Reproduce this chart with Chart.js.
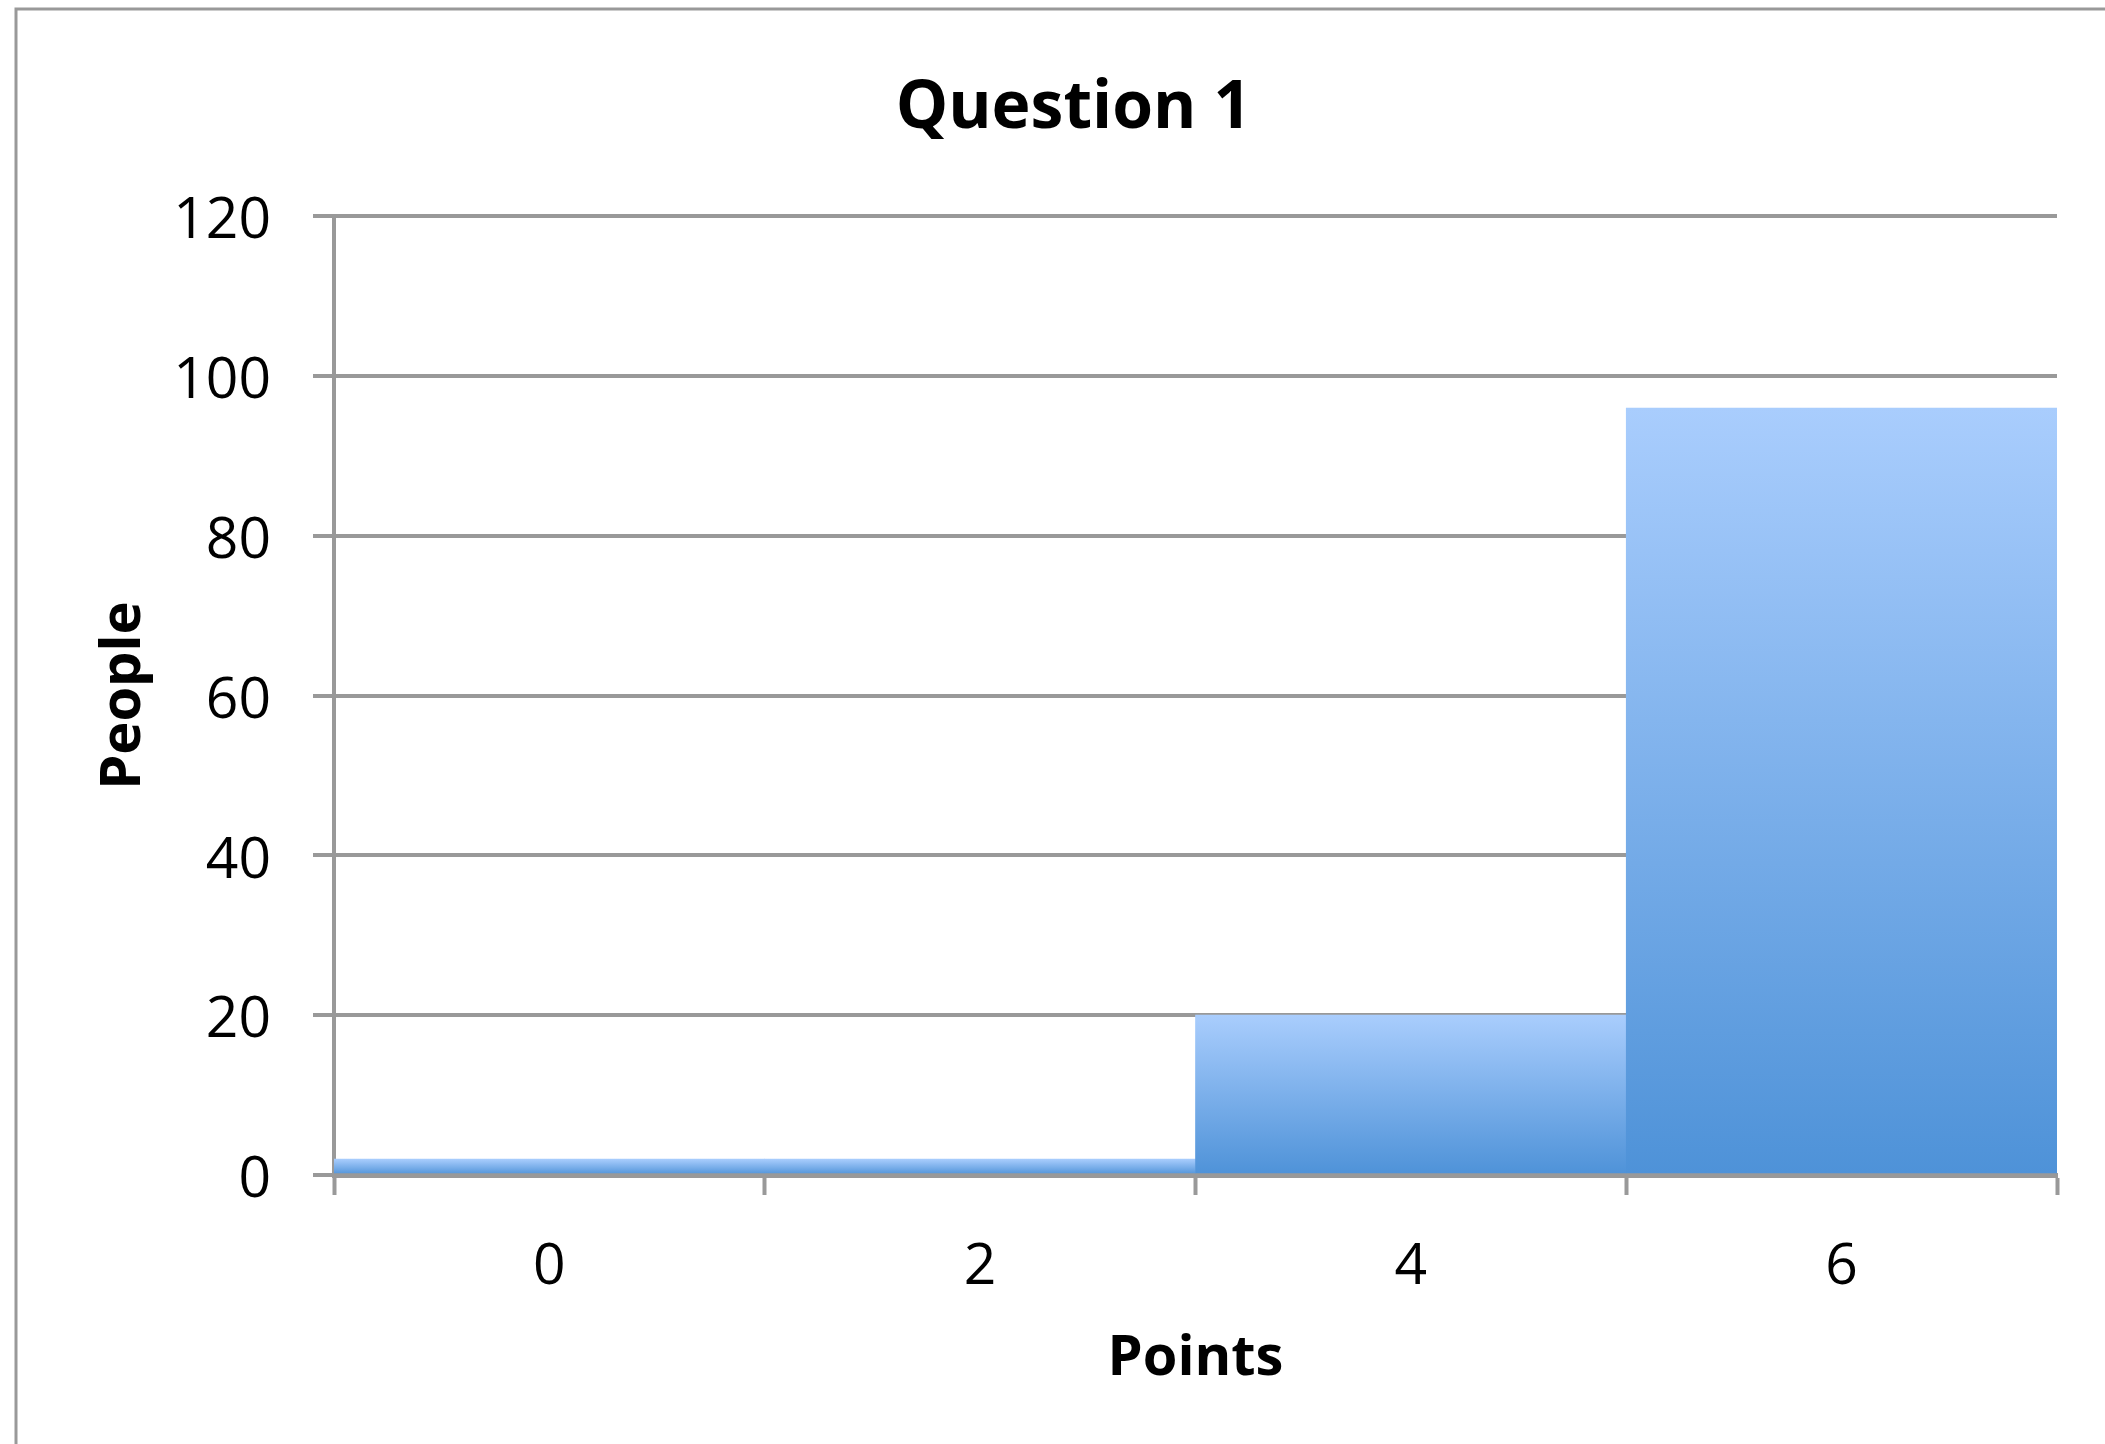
<!DOCTYPE html>
<html>
<head>
<meta charset="utf-8">
<title>Question 1</title>
<script src="https://cdn.jsdelivr.net/npm/chart.js@4.4.1/dist/chart.umd.min.js"></script>
<style>
  html, body { margin: 0; padding: 0; background: #fff; }
  #wrap { width: 2105px; height: 1444px; }
</style>
</head>
<body>
<div id="wrap"><canvas id="chart" width="2105" height="1444"></canvas></div>
<script>
// Chart data.
var chartTitle = 'Question 1';
var points = ['0', '2', '4', '6'];
var people = [2, 2, 20, 96];
var yMax = 120;
var yStep = 20;
var xLabel = 'Points';
var yLabel = 'People';

var gridGrey = '#999999';
var fontFamily = '"Open Sans", "DejaVu Sans", sans-serif';

/**
 * Outer frame of the chart object (only left and top edges are in view).
 */
var framePlugin = {
    id: 'frame',
    beforeDraw: function(chart) {
        var ctx = chart.ctx;
        ctx.save();
        ctx.fillStyle = '#ffffff';
        ctx.fillRect(0, 0, chart.width, chart.height);
        ctx.strokeStyle = gridGrey;
        ctx.lineWidth = 3;
        ctx.strokeRect(16, 9, chart.width + 50, chart.height + 50);
        ctx.restore();
    }
};

// Vertical light-to-dark gradient spanning each bar.
function barGradient(context) {
    var chart = context.chart;
    if (!chart.chartArea || !chart.scales.y) {
        return '#7fb0ea';
    }
    var y = chart.scales.y;
    var top = y.getPixelForValue(context.raw);
    var base = y.getPixelForValue(0);
    if (!isFinite(top) || base - top < 1) {
        return '#7fb0ea';
    }
    var g = chart.ctx.createLinearGradient(0, top, 0, base);
    g.addColorStop(0, '#a9cdfd');
    g.addColorStop(1, '#4e92d8');
    return g;
}

new Chart(document.getElementById('chart'), {
    type: 'bar',
    data: {
        labels: points,
        datasets: [{
            data: people,
            backgroundColor: barGradient,
            borderWidth: 0,
            categoryPercentage: 1,
            barPercentage: 1
        }]
    },
    options: {
        responsive: false,
        animation: false,
        devicePixelRatio: 1,
        layout: {
            padding: {top: 0, right: 48, bottom: 51, left: 90}
        },
        scales: {
            x: {
                offset: true,
                grid: {
                    offset: true,
                    drawOnChartArea: false,
                    drawTicks: true,
                    tickLength: 20,
                    tickWidth: 4,
                    tickColor: gridGrey
                },
                border: {display: true, color: gridGrey, width: 5},
                ticks: {
                    color: '#000',
                    padding: 39,
                    font: {family: fontFamily, size: 57}
                },
                title: {
                    display: true,
                    text: xLabel,
                    color: '#000',
                    padding: 0,
                    font: {family: fontFamily, size: 56, weight: 'bold'}
                },
                afterFit: function(scale) {
                    scale.height = 218;
                }
            },
            y: {
                min: 0,
                max: yMax,
                grid: {
                    color: gridGrey,
                    lineWidth: 4,
                    drawTicks: true,
                    tickLength: 21,
                    tickColor: gridGrey
                },
                border: {display: true, color: gridGrey, width: 4},
                ticks: {
                    stepSize: yStep,
                    color: '#000',
                    padding: 42,
                    labelOffset: 6,
                    font: {family: fontFamily, size: 57}
                },
                title: {
                    display: true,
                    text: yLabel,
                    color: '#000',
                    padding: 0,
                    font: {family: fontFamily, size: 56, weight: 'bold'}
                },
                afterFit: function(scale) {
                    scale.width = 244;
                }
            }
        },
        plugins: {
            legend: {display: false},
            tooltip: {enabled: false},
            title: {
                display: true,
                text: chartTitle,
                color: '#000',
                padding: {top: 70, bottom: 67},
                font: {family: fontFamily, size: 66, weight: 'bold'}
            }
        }
    },
    plugins: [framePlugin]
});
</script>
</body>
</html>
